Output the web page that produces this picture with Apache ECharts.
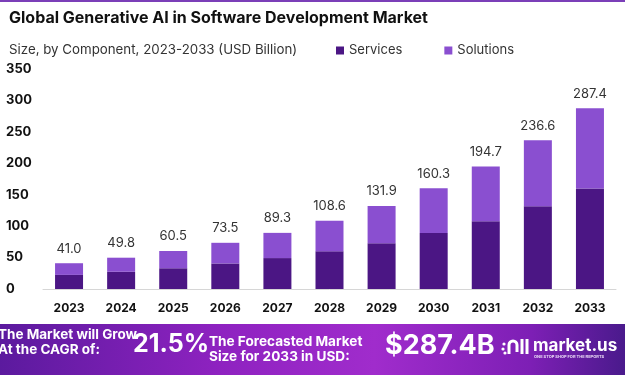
<!DOCTYPE html>
<html>
<head>
<meta charset="utf-8">
<script src="https://cdn.jsdelivr.net/npm/echarts@6/dist/echarts.min.js"></script>
<style>
  html, body { margin: 0; padding: 0; background: #fff; }
  #chart { width: 625px; height: 375px; }
</style>
</head>
<body>
<div id="chart"></div>
<script>
  // data
  var years = ['2023', '2024', '2025', '2026', '2027', '2028', '2029', '2030', '2031', '2032', '2033'];
  var totals = [41.0, 49.8, 60.5, 73.5, 89.3, 108.6, 131.9, 160.3, 194.7, 236.6, 287.4];
  var services = [22.4, 27.4, 33.0, 40.6, 49.2, 60.0, 72.8, 89.0, 107.8, 131.5, 160.0];
  var solutions = [18.6, 22.4, 27.5, 32.9, 40.1, 48.6, 59.1, 71.3, 86.9, 105.1, 127.4];
  var yTicks = [0, 50, 100, 150, 200, 250, 300, 350];

  var font = 'Inter, "Open Sans", sans-serif';
  var chart = echarts.init(document.getElementById('chart'));

  var option = {
    animation: false,
    textStyle: { fontFamily: font },
    title: [
      {
        text: 'Global Generative AI in Software Development Market',
        left: 4, top: 5,
        textStyle: { fontSize: 16, fontWeight: 'bold', color: '#111', fontFamily: font }
      },
      {
        text: 'Size, by Component, 2023-2033 (USD Billion)',
        left: 4, top: 38,
        textStyle: { fontSize: 13.3, fontWeight: 'normal', color: '#333', fontFamily: font }
      }
    ],
    legend: {
      data: ['Services', 'Solutions'],
      left: 331, top: 39,
      itemWidth: 8, itemHeight: 8, itemGap: 42,
      icon: 'rect',
      textStyle: { fontSize: 13, color: '#333', fontFamily: font }
    },
    grid: { left: 43, right: 9, top: 69, bottom: 86, containLabel: false },
    xAxis: {
      type: 'category',
      data: years,
      axisTick: { show: false },
      axisLine: { lineStyle: { color: '#d6d6d6' } },
      axisLabel: { color: '#111', fontWeight: 'bold', fontSize: 12, margin: 13, fontFamily: font }
    },
    yAxis: {
      type: 'value',
      min: yTicks[0], max: yTicks[yTicks.length - 1], interval: 50,
      splitLine: { show: false },
      axisLine: { show: false },
      axisTick: { show: false },
      axisLabel: { color: '#111', fontWeight: 'bold', fontSize: 13, align: 'left', margin: 37, fontFamily: font }
    },
    series: [
      {
        name: 'Services',
        type: 'bar',
        stack: 'total',
        data: services,
        barWidth: 28,
        itemStyle: { color: '#4b1684' }
      },
      {
        name: 'Solutions',
        type: 'bar',
        stack: 'total',
        data: solutions,
        barWidth: 28,
        itemStyle: { color: '#8a4fd0' },
        label: {
          show: true,
          position: 'top',
          distance: 8,
          color: '#333',
          fontSize: 13,
          fontFamily: font,
          formatter: function (p) { return totals[p.dataIndex].toFixed(1); }
        }
      }
    ],
    graphic: [
      {
        type: 'rect',
        left: 0, top: 0,
        shape: { width: 625, height: 2 },
        style: { fill: '#7b3fb8' }
      },
      // bottom banner
      {
        type: 'rect',
        left: 0, top: 324,
        shape: { width: 625, height: 51 },
        style: {
          fill: new echarts.graphic.LinearGradient(0, 0, 1, 0.3, [
            { offset: 0, color: '#5b1a9e' },
            { offset: 0.35, color: '#8e22c0' },
            { offset: 0.6, color: '#a02ccc' },
            { offset: 0.85, color: '#7d1fb5' },
            { offset: 1, color: '#4a1a8c' }
          ])
        }
      },
      {
        type: 'text', left: -2, top: 327,
        style: { text: 'The Market will Grow\nAt the CAGR of:', fill: '#fff', font: 'bold 13.5px ' + font, lineHeight: 15 }
      },
      {
        type: 'text', left: 133, top: 332,
        style: { text: '21.5%', fill: '#fff', font: 'bold 25px ' + font }
      },
      {
        type: 'text', left: 209, top: 334,
        style: { text: 'The Forecasted Market\nSize for 2033 in USD:', fill: '#fff', font: 'bold 13.6px ' + font, lineHeight: 15 }
      },
      {
        type: 'text', left: 385, top: 332,
        style: { text: '$287.4B', fill: '#fff', font: 'bold 27px ' + font }
      },
      // market.us logo mark
      {
        type: 'group',
        children: [
          { type: 'circle', shape: { cx: 504, cy: 344, r: 1.6 }, style: { fill: '#fff' } },
          { type: 'circle', shape: { cx: 503, cy: 349, r: 1.6 }, style: { fill: '#fff' } },
          { type: 'circle', shape: { cx: 505, cy: 353, r: 1.6 }, style: { fill: '#fff' } },
          {
            type: 'arc',
            shape: { cx: 513, cy: 345, r: 4, startAngle: Math.PI, endAngle: 2 * Math.PI, clockwise: true },
            style: { stroke: '#fff', lineWidth: 3, fill: null }
          },
          { type: 'line', shape: { x1: 509, y1: 345, x2: 509, y2: 354 }, style: { stroke: '#fff', lineWidth: 3 } },
          { type: 'line', shape: { x1: 517, y1: 345, x2: 517, y2: 352 }, style: { stroke: '#fff', lineWidth: 3 } },
          { type: 'line', shape: { x1: 522, y1: 339, x2: 522, y2: 354 }, style: { stroke: '#fff', lineWidth: 3 } },
          { type: 'line', shape: { x1: 527, y1: 339, x2: 527, y2: 354 }, style: { stroke: '#fff', lineWidth: 3 } }
        ]
      },
      {
        type: 'text', left: 533, top: 337,
        style: { text: 'market.us', fill: '#fff', font: 'bold 17px ' + font }
      },
      {
        type: 'text', left: 534, top: 355,
        style: { text: 'ONE STOP SHOP FOR THE REPORTS', fill: '#e8d8f5', font: 'bold 4px ' + font }
      }
    ]
  };

  chart.setOption(option);
</script>
</body>
</html>
